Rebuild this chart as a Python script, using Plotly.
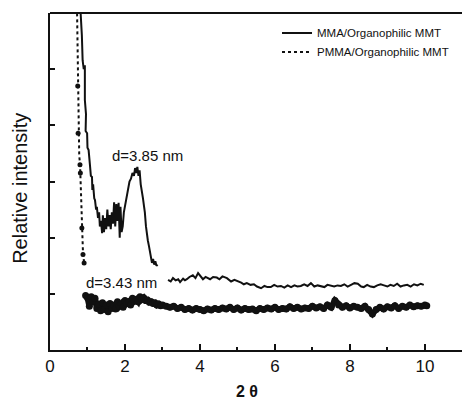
import plotly.graph_objects as go

# ---------------- data ----------------
# MMA/Organophilic MMT (solid line): steep part + d=3.85 nm peak
mma_x1 = [0.80, 0.82, 0.85, 0.87, 0.90, 0.93, 0.94, 0.93, 0.96, 0.95, 0.99, 1.00, 1.03, 1.05,
          1.07, 1.09, 1.12, 1.13, 1.15, 1.18, 1.20, 1.23, 1.25, 1.28, 1.31, 1.33, 1.36, 1.39,
          1.41, 1.44, 1.47, 1.50, 1.53, 1.56, 1.59, 1.62, 1.65, 1.68, 1.71, 1.74, 1.77, 1.80,
          1.83, 1.86, 1.88, 1.91, 1.94, 1.97, 2.00, 2.04, 2.08, 2.12, 2.16, 2.20, 2.24, 2.27,
          2.30, 2.33, 2.36, 2.39, 2.42, 2.45, 2.48, 2.51, 2.53, 2.56, 2.58, 2.61, 2.64, 2.67,
          2.70, 2.72, 2.75, 2.78, 2.81, 2.84, 2.87]
mma_y1 = [6.20, 6.00, 5.60, 5.16, 5.00, 5.07, 4.60, 4.45, 4.20, 3.90, 3.86, 3.60, 3.56, 3.30,
          3.26, 3.10, 3.08, 2.85, 2.95, 2.70, 2.67, 2.50, 2.55, 2.35, 2.45, 2.20, 2.30, 2.08,
          2.40, 2.10, 2.35, 2.15, 2.50, 2.20, 2.40, 2.15, 2.45, 2.25, 2.63, 2.20, 2.60, 2.30,
          2.62, 2.00, 2.55, 2.10, 2.20, 2.45, 2.55, 2.70, 2.85, 3.00, 3.05, 3.15, 3.10, 3.24,
          3.15, 3.26, 3.10, 3.20, 2.95, 2.85, 2.70, 2.55, 2.45, 2.20, 2.08, 1.95, 1.85, 1.73,
          1.60, 1.55, 1.62, 1.52, 1.58, 1.50, 1.52]
# MMA flat tail
mma_x2 = [3.15, 3.22, 3.28, 3.35, 3.42, 3.47, 3.55, 3.60, 3.65, 3.72, 3.81, 3.88, 3.95, 4.02,
          4.08, 4.15, 4.22, 4.27, 4.35, 4.45, 4.52, 4.60, 4.72, 4.83, 4.92, 5.01, 5.10, 5.17,
          5.25, 5.35, 5.44, 5.52, 5.63, 5.72, 5.80, 5.89, 5.98, 6.07, 6.16, 6.25, 6.34, 6.43,
          6.52, 6.60, 6.69, 6.78, 6.87, 6.96, 7.05, 7.14, 7.23, 7.32, 7.40, 7.49, 7.58, 7.67,
          7.76, 7.85, 7.94, 8.03, 8.12, 8.21, 8.30, 8.37, 8.46, 8.55, 8.64, 8.73, 8.82, 8.91,
          9.00, 9.08, 9.17, 9.26, 9.35, 9.44, 9.53, 9.62, 9.71, 9.80, 9.89, 9.97]
mma_y2 = [1.25, 1.22, 1.28, 1.24, 1.26, 1.21, 1.27, 1.24, 1.26, 1.30, 1.33, 1.28, 1.37, 1.31,
          1.26, 1.30, 1.27, 1.26, 1.30, 1.29, 1.26, 1.31, 1.28, 1.22, 1.25, 1.23, 1.20, 1.17,
          1.19, 1.16, 1.17, 1.13, 1.10, 1.14, 1.12, 1.12, 1.16, 1.13, 1.14, 1.11, 1.15, 1.12,
          1.15, 1.13, 1.14, 1.17, 1.14, 1.19, 1.13, 1.15, 1.14, 1.12, 1.16, 1.14, 1.13, 1.15,
          1.14, 1.17, 1.13, 1.16, 1.19, 1.18, 1.13, 1.12, 1.16, 1.13, 1.12, 1.15, 1.17, 1.15,
          1.13, 1.16, 1.14, 1.18, 1.13, 1.15, 1.16, 1.13, 1.17, 1.15, 1.18, 1.16]

# PMMA/Organophilic MMT: dotted steep part
pmma_x1 = [0.72, 0.73, 0.74, 0.75, 0.76, 0.78, 0.80, 0.82, 0.85, 0.88, 0.91]
pmma_y1 = [6.10, 5.50, 4.90, 4.20, 3.56, 3.45, 3.33, 2.80, 2.19, 1.73, 1.55]
pmma_big_x = [0.74, 0.75, 0.80, 0.81, 0.85, 0.88, 0.91]
pmma_big_y = [4.70, 3.86, 3.30, 3.15, 2.17, 1.70, 1.55]
# PMMA thick noisy band (d=3.43 nm)
pmma_x2 = [0.95, 1.00, 1.05, 1.10, 1.15, 1.20, 1.25, 1.30, 1.35, 1.40, 1.45, 1.50, 1.55, 1.60,
           1.65, 1.70, 1.75, 1.80, 1.85, 1.90, 1.95, 2.00, 2.05, 2.10, 2.15, 2.20, 2.25, 2.30,
           2.35, 2.40, 2.45, 2.50, 2.55, 2.60, 2.65, 2.70, 2.75, 2.80, 2.85, 2.90, 2.95, 3.00,
           3.10, 3.20, 3.30, 3.40, 3.50, 3.60, 3.70, 3.80, 3.90, 4.00, 4.10, 4.20, 4.30, 4.40,
           4.50, 4.60, 4.70, 4.80, 4.90, 5.00, 5.10, 5.20, 5.30, 5.40, 5.50, 5.60, 5.70, 5.80,
           5.90, 6.00, 6.10, 6.20, 6.30, 6.40, 6.50, 6.60, 6.70, 6.80, 6.90, 7.00, 7.10, 7.20,
           7.30, 7.40, 7.50, 7.60, 7.70, 7.80, 7.90, 8.00, 8.10, 8.20, 8.30, 8.40, 8.50, 8.60,
           8.70, 8.80, 8.90, 9.00, 9.10, 9.20, 9.30, 9.40, 9.50, 9.60, 9.70, 9.80, 9.90, 10.00,
           10.05]
pmma_y2 = [0.97, 0.93, 0.78, 0.95, 0.86, 0.92, 0.74, 0.82, 0.70, 0.84, 0.72, 0.80, 0.68, 0.83,
           0.74, 0.80, 0.73, 0.86, 0.78, 0.82, 0.76, 0.88, 0.83, 0.86, 0.80, 0.92, 0.87, 0.90,
           0.86, 0.95, 0.90, 0.93, 0.88, 0.89, 0.85, 0.86, 0.83, 0.84, 0.80, 0.82, 0.79, 0.80,
           0.78, 0.76, 0.78, 0.74, 0.76, 0.72, 0.74, 0.71, 0.74, 0.72, 0.70, 0.73, 0.71, 0.74,
           0.72, 0.75, 0.73, 0.76, 0.72, 0.75, 0.71, 0.74, 0.72, 0.73, 0.70, 0.74, 0.72, 0.75,
           0.73, 0.76, 0.72, 0.74, 0.73, 0.77, 0.74, 0.76, 0.73, 0.75, 0.74, 0.78, 0.75, 0.77,
           0.74, 0.80, 0.76, 0.88, 0.80, 0.76, 0.79, 0.75, 0.78, 0.76, 0.74, 0.78, 0.72, 0.64,
           0.72, 0.76, 0.73, 0.77, 0.75, 0.79, 0.74, 0.78, 0.76, 0.80, 0.77, 0.79, 0.78, 0.80,
           0.79]

x_ticks = [0, 2, 4, 6, 8, 10]
x_tick_labels = ["0", "2", "4", "6", "8", "10"]

FONT = "Liberation Sans, Arial, sans-serif"
INK = "#111111"

fig = go.Figure()

fig.add_trace(go.Scatter(
    x=mma_x1 + [None] + mma_x2, y=mma_y1 + [None] + mma_y2,
    mode="lines", name="MMA/Organophilic MMT",
    line=dict(color=INK, width=2), connectgaps=False, legendgroup="mma"))

fig.add_trace(go.Scatter(
    x=pmma_x1, y=pmma_y1, mode="lines", name="PMMA/Organophilic MMT",
    line=dict(color=INK, width=2, dash="dot"), legendgroup="pmma"))
fig.add_trace(go.Scatter(
    x=pmma_big_x, y=pmma_big_y, mode="markers", showlegend=False,
    marker=dict(color=INK, size=5), legendgroup="pmma"))
fig.add_trace(go.Scatter(
    x=pmma_x2, y=pmma_y2, mode="lines+markers", showlegend=False,
    line=dict(color=INK, width=6), marker=dict(color=INK, size=7),
    legendgroup="pmma"))

fig.add_annotation(x=2.59, y=3.47, text="d=3.85 nm", showarrow=False,
                   font=dict(family=FONT, size=15, color=INK))
fig.add_annotation(x=1.92, y=1.21, text="d=3.43 nm", showarrow=False,
                   font=dict(family=FONT, size=15, color=INK))
fig.add_annotation(xref="paper", yref="paper", x=-0.073, y=0.481, text="Relative intensity",
                   textangle=-90, showarrow=False, xanchor="center", yanchor="middle",
                   font=dict(family=FONT, size=20, color=INK))
fig.add_annotation(xref="paper", yref="paper", x=0.478, y=-0.124, text="<b>2 θ</b>",
                   showarrow=False, xanchor="center", yanchor="middle",
                   font=dict(family=FONT, size=16, color=INK))

# top frame line
fig.add_shape(type="line", xref="paper", yref="paper", x0=0, x1=1, y0=1, y1=1,
              line=dict(color=INK, width=2))

fig.update_layout(
    width=462, height=402,
    margin=dict(l=50, r=0, t=13, b=52),
    paper_bgcolor="white", plot_bgcolor="white",
    font=dict(family=FONT, color=INK),
    legend=dict(x=0.551, y=0.984, xanchor="left", yanchor="top",
                bgcolor="rgba(0,0,0,0)", font=dict(family=FONT, size=11.5, color=INK),
                tracegroupgap=0),
    xaxis=dict(range=[0, 10.99], tickvals=x_ticks, ticktext=x_tick_labels,
               ticks="inside", ticklen=6, tickwidth=1.5, tickcolor=INK,
               minor=dict(dtick=1, tick0=0, ticks="inside", ticklen=3, tickcolor=INK),
               showline=True, linewidth=2, linecolor=INK, showgrid=False, zeroline=False,
               tickfont=dict(family=FONT, size=17, color=INK)),
    yaxis=dict(range=[0, 6], dtick=1, ticks="inside", ticklen=5, tickwidth=1.5,
               tickcolor=INK, showticklabels=False,
               showline=True, linewidth=2, linecolor=INK, showgrid=False, zeroline=False),
)

fig.write_html("out.html", config={"displayModeBar": False},
               post_script="document.body.style.margin='0';document.body.style.overflow='hidden';")
